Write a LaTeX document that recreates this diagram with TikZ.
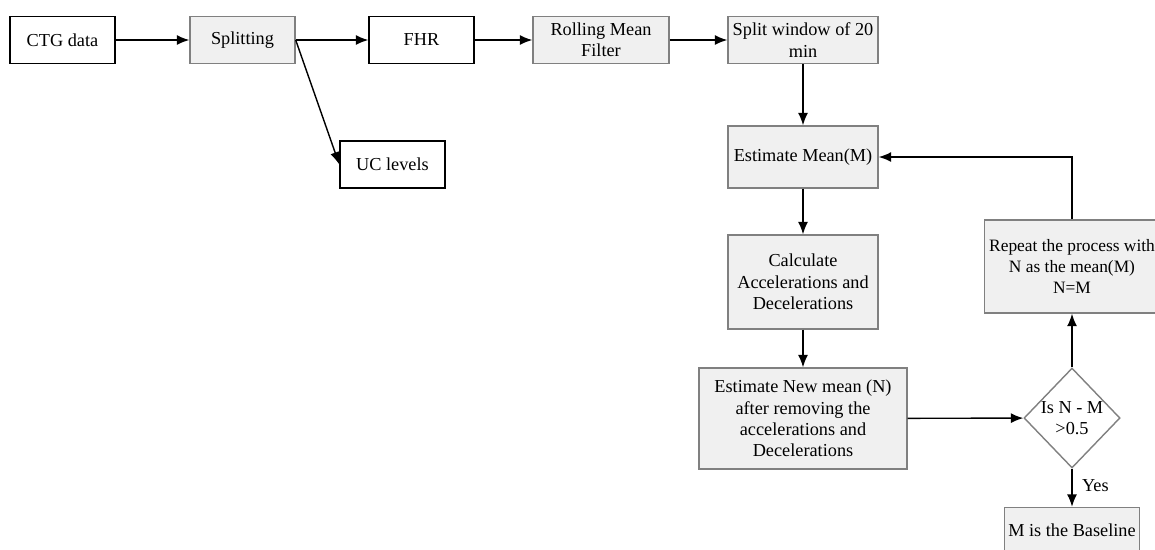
\documentclass[tikz,border=0pt]{standalone}
\usepackage{fontspec}
\setmainfont{Liberation Serif}
\usepackage{tikz}
\usetikzlibrary{positioning, arrows.meta, shapes.geometric}

\begin{document}
\begin{tikzpicture}[
    x=0.02cm, y=-0.02cm,
    font=\fontsize{10.4}{12.2}\selectfont,
    plain/.style={rectangle, draw=black, line width=0.8pt, fill=white, align=center, inner sep=1pt},
    proc/.style={rectangle, draw=black!50, line width=0.8pt, fill=black!6, align=center, inner sep=1pt},
    cond/.style={diamond, draw=black!50, line width=0.8pt, fill=white, align=center, inner sep=0pt, minimum width=1.78cm, minimum height=2cm},
    flow/.style={draw=black, line width=0.8pt, -{Latex[length=2.5mm, width=2mm]}}
]
\useasboundingbox (0,0) rectangle (1155,549);
% top row
\node[plain, minimum width=2.1cm, minimum height=0.94cm] (ctg) at (62.5,40) {CTG data};
\node[proc, minimum width=2.1cm, minimum height=0.94cm] (split) at (242.5,40) {Splitting};
\node[plain, minimum width=2.1cm, minimum height=0.94cm] (fhr) at (421.5,40) {FHR};
\node[plain, minimum width=2.1cm, minimum height=0.94cm] (uc) at (392.5,164.5) {UC levels};
\node[proc, minimum width=2.72cm, minimum height=0.94cm] (rmf) at (601,40) {Rolling Mean\\Filter};
\node[proc, minimum width=3cm, minimum height=0.94cm] (win) at (803,40) {Split window of 20\\min};
% baseline loop
\node[proc, minimum width=3cm, minimum height=1.24cm] (estm) at (803,157) {Estimate Mean(M)};
\node[proc, minimum width=3cm, minimum height=1.88cm] (calc) at (803,282) {Calculate\\Accelerations and\\Decelerations};
\node[proc, minimum width=4.16cm, minimum height=2.02cm] (newm) at (803,418.5) {Estimate New mean (N)\\after removing the\\accelerations and\\Decelerations};
\node[cond] (test) at (1072,418) {Is N - M\\>0.5};
\node[proc, minimum width=3.5cm, minimum height=1.86cm, font=\fontsize{9.9}{12.2}\selectfont] (rep) at (1072,266.5) {Repeat the process with\\N as the mean(M)\\N=M};
\node[proc, minimum width=2.7cm, minimum height=0.9cm] (base) at (1072,530) {M is the Baseline};
% connections
\foreach \a/\b in {ctg/split, split/fhr, fhr/rmf, rmf/win}{\draw[flow] (\a)--(\b);}
\draw[flow] (split.east)--(uc.west);
\draw[flow] (win)--(estm);
\draw[flow] (estm)--(calc);
\draw[flow] (calc)--(newm);
\draw[flow] (newm)--(test);
\draw[flow] (test)--(rep);
\draw[flow] (rep.north) |- (estm.east);
\draw[flow] (test)--(base) node[pos=0.45, right=2pt] {Yes};
\end{tikzpicture}
\end{document}
